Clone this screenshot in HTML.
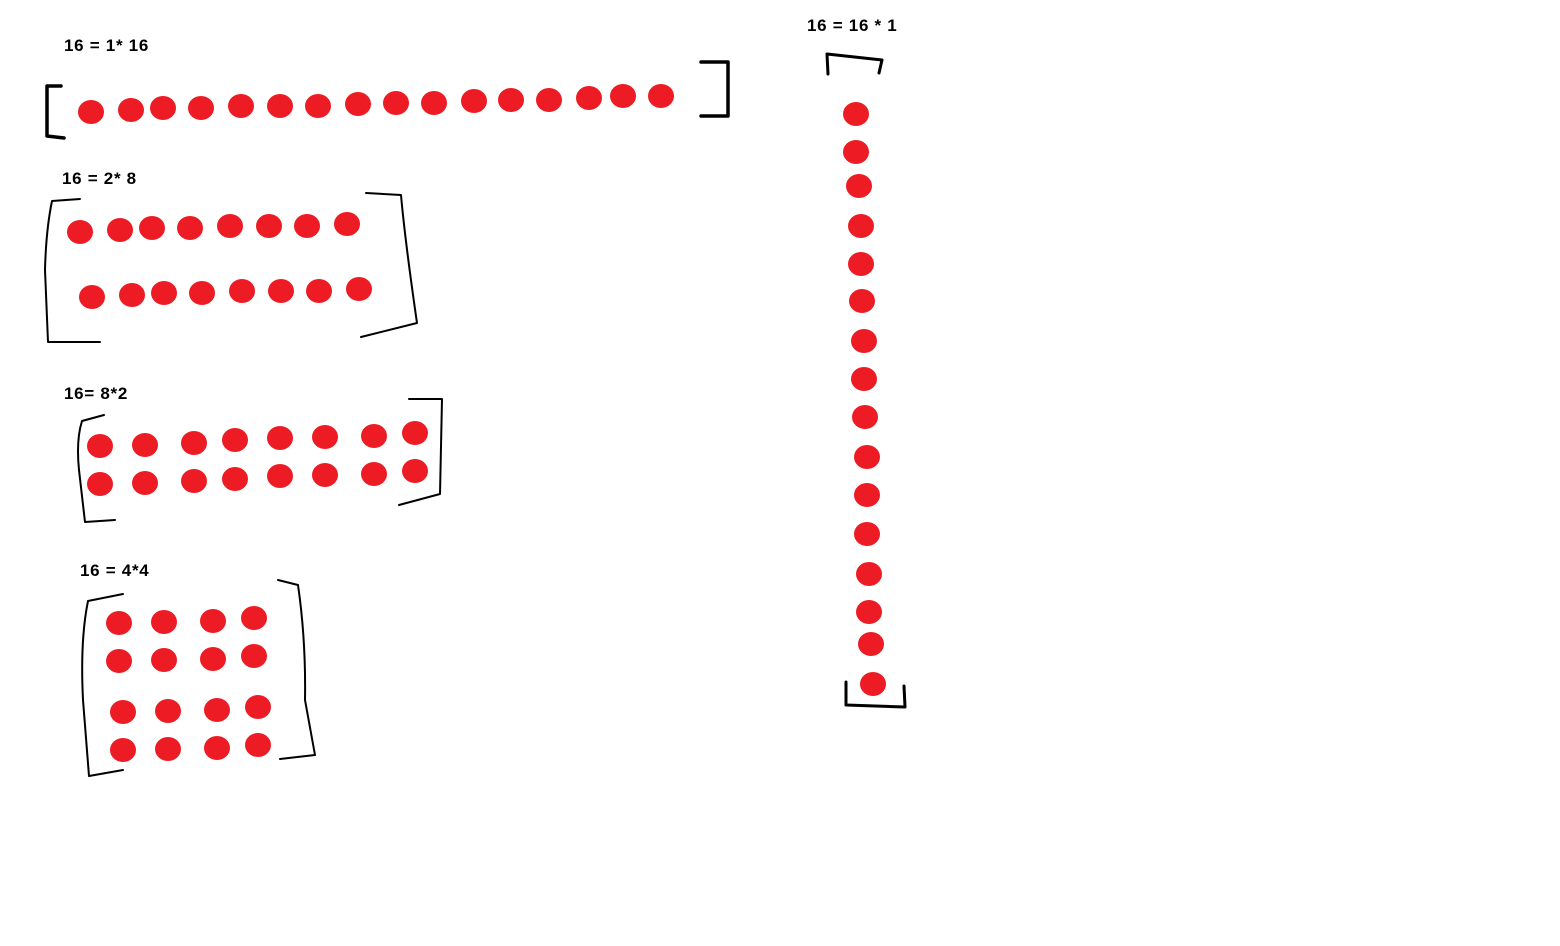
<!DOCTYPE html>
<html><head><meta charset="utf-8"><style>
html,body{margin:0;padding:0;background:#fff;}
svg{display:block}
text{font-family:"Liberation Sans",sans-serif;font-weight:bold;font-size:17px;letter-spacing:0.7px;fill:#000}
</style></head><body>
<svg width="1560" height="946" viewBox="0 0 1560 946" xmlns="http://www.w3.org/2000/svg">
<rect width="1560" height="946" fill="#fff"/>
<g fill="#ed1c24">
<ellipse cx="91" cy="112" rx="13" ry="12"/><ellipse cx="131" cy="110" rx="13" ry="12"/><ellipse cx="163" cy="108" rx="13" ry="12"/><ellipse cx="201" cy="108" rx="13" ry="12"/><ellipse cx="241" cy="106" rx="13" ry="12"/><ellipse cx="280" cy="106" rx="13" ry="12"/><ellipse cx="318" cy="106" rx="13" ry="12"/><ellipse cx="358" cy="104" rx="13" ry="12"/><ellipse cx="396" cy="103" rx="13" ry="12"/><ellipse cx="434" cy="103" rx="13" ry="12"/><ellipse cx="474" cy="101" rx="13" ry="12"/><ellipse cx="511" cy="100" rx="13" ry="12"/><ellipse cx="549" cy="100" rx="13" ry="12"/><ellipse cx="589" cy="98" rx="13" ry="12"/><ellipse cx="623" cy="96" rx="13" ry="12"/><ellipse cx="661" cy="96" rx="13" ry="12"/>
<ellipse cx="80" cy="232" rx="13" ry="12"/><ellipse cx="120" cy="230" rx="13" ry="12"/><ellipse cx="152" cy="228" rx="13" ry="12"/><ellipse cx="190" cy="228" rx="13" ry="12"/><ellipse cx="230" cy="226" rx="13" ry="12"/><ellipse cx="269" cy="226" rx="13" ry="12"/><ellipse cx="307" cy="226" rx="13" ry="12"/><ellipse cx="347" cy="224" rx="13" ry="12"/>
<ellipse cx="92" cy="297" rx="13" ry="12"/><ellipse cx="132" cy="295" rx="13" ry="12"/><ellipse cx="164" cy="293" rx="13" ry="12"/><ellipse cx="202" cy="293" rx="13" ry="12"/><ellipse cx="242" cy="291" rx="13" ry="12"/><ellipse cx="281" cy="291" rx="13" ry="12"/><ellipse cx="319" cy="291" rx="13" ry="12"/><ellipse cx="359" cy="289" rx="13" ry="12"/>
<ellipse cx="100" cy="446" rx="13" ry="12"/><ellipse cx="145" cy="445" rx="13" ry="12"/><ellipse cx="194" cy="443" rx="13" ry="12"/><ellipse cx="235" cy="440" rx="13" ry="12"/><ellipse cx="280" cy="438" rx="13" ry="12"/><ellipse cx="325" cy="437" rx="13" ry="12"/><ellipse cx="374" cy="436" rx="13" ry="12"/><ellipse cx="415" cy="433" rx="13" ry="12"/>
<ellipse cx="100" cy="484" rx="13" ry="12"/><ellipse cx="145" cy="483" rx="13" ry="12"/><ellipse cx="194" cy="481" rx="13" ry="12"/><ellipse cx="235" cy="479" rx="13" ry="12"/><ellipse cx="280" cy="476" rx="13" ry="12"/><ellipse cx="325" cy="475" rx="13" ry="12"/><ellipse cx="374" cy="474" rx="13" ry="12"/><ellipse cx="415" cy="471" rx="13" ry="12"/>
<ellipse cx="119" cy="623" rx="13" ry="12"/><ellipse cx="164" cy="622" rx="13" ry="12"/><ellipse cx="213" cy="621" rx="13" ry="12"/><ellipse cx="254" cy="618" rx="13" ry="12"/>
<ellipse cx="119" cy="661" rx="13" ry="12"/><ellipse cx="164" cy="660" rx="13" ry="12"/><ellipse cx="213" cy="659" rx="13" ry="12"/><ellipse cx="254" cy="656" rx="13" ry="12"/>
<ellipse cx="123" cy="712" rx="13" ry="12"/><ellipse cx="168" cy="711" rx="13" ry="12"/><ellipse cx="217" cy="710" rx="13" ry="12"/><ellipse cx="258" cy="707" rx="13" ry="12"/>
<ellipse cx="123" cy="750" rx="13" ry="12"/><ellipse cx="168" cy="749" rx="13" ry="12"/><ellipse cx="217" cy="748" rx="13" ry="12"/><ellipse cx="258" cy="745" rx="13" ry="12"/>
<ellipse cx="856" cy="114" rx="13" ry="12"/><ellipse cx="856" cy="152" rx="13" ry="12"/><ellipse cx="859" cy="186" rx="13" ry="12"/><ellipse cx="861" cy="226" rx="13" ry="12"/><ellipse cx="861" cy="264" rx="13" ry="12"/><ellipse cx="862" cy="301" rx="13" ry="12"/><ellipse cx="864" cy="341" rx="13" ry="12"/><ellipse cx="864" cy="379" rx="13" ry="12"/><ellipse cx="865" cy="417" rx="13" ry="12"/><ellipse cx="867" cy="457" rx="13" ry="12"/><ellipse cx="867" cy="495" rx="13" ry="12"/><ellipse cx="867" cy="534" rx="13" ry="12"/><ellipse cx="869" cy="574" rx="13" ry="12"/><ellipse cx="869" cy="612" rx="13" ry="12"/><ellipse cx="871" cy="644" rx="13" ry="12"/><ellipse cx="873" cy="684" rx="13" ry="12"/>
</g>
<g fill="none" stroke="#000" stroke-linecap="round" stroke-linejoin="round">
<path d="M61 86 L47 86 L47 136 L64 138" stroke-width="3.5"/>
<path d="M701 62 L728 62 L728 116 L701 116" stroke-width="3.5"/>
<path d="M80 199 L52 201 Q46 230 45 270 L48 342 L100 342" stroke-width="2"/>
<path d="M366 193 L401 195 Q405 240 417 323 L361 337" stroke-width="2"/>
<path d="M104 415 L82 421 Q76 440 79 470 L85 522 L115 520" stroke-width="2"/>
<path d="M409 399 L442 399 L440 494 L399 505" stroke-width="2"/>
<path d="M123 594 L88 601 Q80 640 83 700 L89 776 L123 770" stroke-width="2"/>
<path d="M278 580 L298 585 Q306 640 305 700 L315 755 L280 759" stroke-width="2"/>
<path d="M828 74 L827 54 L882 60 L879 73" stroke-width="3"/>
<path d="M846 682 L846 705 L905 707 L904 686" stroke-width="3"/>
</g>
<text x="64" y="51">16 = 1* 16</text>
<text x="62" y="184">16 = 2* 8</text>
<text x="64" y="399">16= 8*2</text>
<text x="80" y="576">16 = 4*4</text>
<text x="807" y="31">16 = 16 * 1</text>
</svg>
</body></html>
